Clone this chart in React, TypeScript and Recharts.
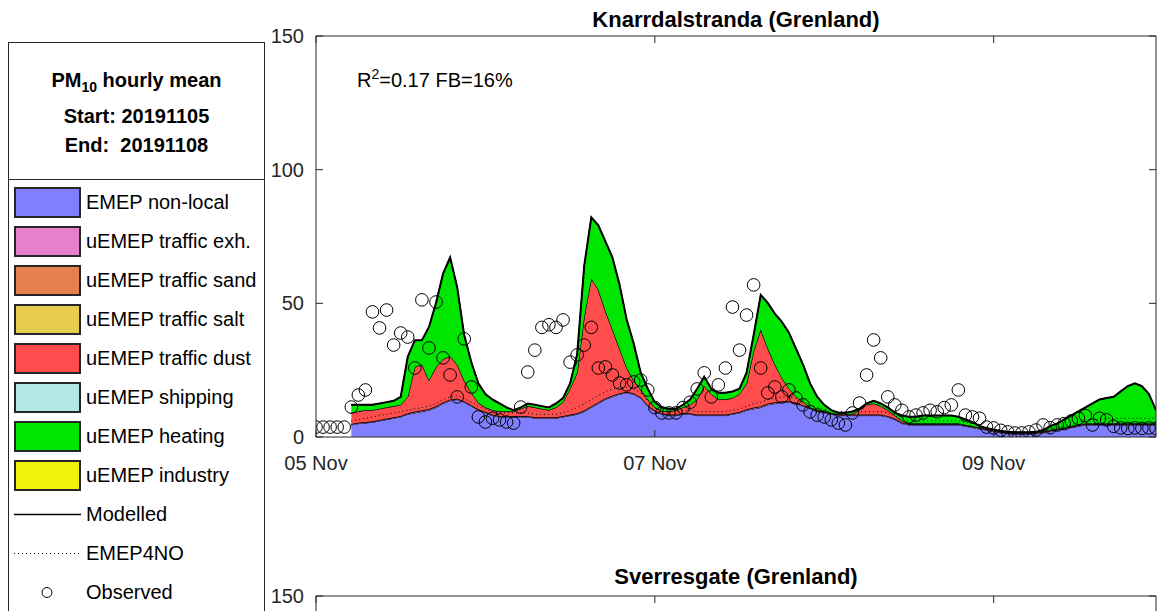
import React from 'react';
import { Area, ComposedChart, Line, ReferenceArea, Scatter, XAxis, YAxis } from 'recharts';

// hours since 05 Nov 00:00, model output starts at hour 5
const FIRST_MODEL_HOUR = 5;
const LAST_HOUR = 119;
const dayTicks = [0, 48, 96];
const dayLabels = ['05 Nov', '07 Nov', '09 Nov'];
const concTicks = [0, 50, 100, 150];

const observed = [
  3.7, 3.7, 3.7, 3.7, 3.7, 11.2, 15.7, 17.6, 46.8, 40.8,
  47.5, 34.4, 38.9, 37.4, 25.8, 51.3, 33.3, 50.5, 29.6, 23.2,
  15, 36.7, 18.7, 7.5, 5.6, 7, 6.4, 5.6, 5.2, 11.2,
  24.3, 32.5, 41, 42, 41, 43.8, 28, 30.7, 34.4, 41,
  25.8, 26.2, 23.2, 20.2, 19.5, 20.6, 21.3, 17.6, 11, 9,
  9, 9, 11, 13, 18, 24, 15, 19.5, 25.8, 48.6,
  32.5, 45.6, 56.9, 25.8, 16.5, 18.7, 15, 17.6, 14.6, 12,
  9.4, 8.2, 7.5, 6.4, 5.2, 4.5, 9, 12.7, 23.2, 36.3,
  29.6, 15, 12, 10, 7.5, 8.2, 9, 10, 9.4, 11,
  12, 17.6, 8.2, 7.5, 7, 3.7, 3.4, 2.5, 1.9, 1.5,
  1.5, 1.9, 2.6, 4.5, 3.5, 4.5, 5, 6, 7, 8,
  4.5, 7, 6.4, 4, 3.4, 3.2, 3.4, 3.2, 3.4, 3.2,
];

const nonLocal = [
  4.5, 5, 5.2, 5.5, 6,
  6.5, 7, 7.5, 8.5, 9, 9.5, 10, 11, 12.5, 13.5,
  14, 13, 11.5, 10, 9, 8, 7.5, 7.5, 7.5, 7.5,
  7.5, 7, 7, 7, 7, 7.5, 8, 8.5, 9.5, 11,
  12.5, 14, 15, 16, 16.5, 16, 14.5, 11.5, 9.5, 8.5,
  8, 8, 8.5, 8.5, 8, 8, 8, 8, 8, 8.5,
  9, 10, 10.5, 11, 12, 12.5, 13, 13, 12.5, 11.5,
  10.5, 9.5, 9, 8.5, 8, 8, 8, 8, 8, 8,
  8, 7.5, 6.5, 5, 4.5, 4.5, 4.5, 4.5, 4.5, 4.5,
  4.5, 4.5, 4, 3.5, 3, 2.5, 2, 1.5, 1.2, 1,
  1, 1, 1.2, 1.5, 2, 2.5, 3, 3.5, 4, 4.5,
  4.5, 4.5, 4.5, 4.5, 4.5, 4.5, 4.5, 4.5, 4.5, 4.5,
];

const trafficExh = [
  0.3, 0.3, 0.3, 0.3, 0.3,
  0.3, 0.3, 0.3, 0.3, 0.4, 0.4, 0.4, 0.4, 0.4, 0.4,
  0.3, 0.3, 0.3, 0.3, 0.3, 0.3, 0.3, 0.3, 0.3, 0.3,
  0.3, 0.3, 0.3, 0.3, 0.3, 0.3, 0.3, 0.3, 0.4, 0.4,
  0.4, 0.4, 0.4, 0.3, 0.3, 0.3, 0.3, 0.3, 0.3, 0.3,
  0.3, 0.3, 0.3, 0.3, 0.3, 0.3, 0.3, 0.3, 0.3, 0.3,
  0.3, 0.3, 0.4, 0.4, 0.4, 0.4, 0.3, 0.3, 0.3, 0.3,
  0.3, 0.3, 0.3, 0.3, 0.3, 0.3, 0.3, 0.3, 0.3, 0.3,
  0.3, 0.3, 0.3, 0.3, 0.3, 0.3, 0.3, 0.3, 0.3, 0.3,
  0.3, 0.3, 0.3, 0.3, 0.3, 0.3, 0.3, 0.3, 0.3, 0.3,
  0.3, 0.3, 0.3, 0.3, 0.3, 0.3, 0.3, 0.3, 0.3, 0.3,
  0.3, 0.3, 0.3, 0.3, 0.3, 0.3, 0.3, 0.3, 0.3, 0.3,
];

const trafficSand = [
  0.05, 0.05, 0.05, 0.05, 0.05,
  0.05, 0.05, 0.05, 0.05, 0.05, 0.05, 0.05, 0.05, 0.05, 0.05,
  0.05, 0.05, 0.05, 0.05, 0.05, 0.05, 0.05, 0.05, 0.05, 0.05,
  0.05, 0.05, 0.05, 0.05, 0.05, 0.05, 0.05, 0.05, 0.05, 0.05,
  0.05, 0.05, 0.05, 0.05, 0.05, 0.05, 0.05, 0.05, 0.05, 0.05,
  0.05, 0.05, 0.05, 0.05, 0.05, 0.05, 0.05, 0.05, 0.05, 0.05,
  0.05, 0.05, 0.05, 0.05, 0.05, 0.05, 0.05, 0.05, 0.05, 0.05,
  0.05, 0.05, 0.05, 0.05, 0.05, 0.05, 0.05, 0.05, 0.05, 0.05,
  0.05, 0.05, 0.05, 0.05, 0.05, 0.05, 0.05, 0.05, 0.05, 0.05,
  0.05, 0.05, 0.05, 0.05, 0.05, 0.05, 0.05, 0.05, 0.05, 0.05,
  0.05, 0.05, 0.05, 0.05, 0.05, 0.05, 0.05, 0.05, 0.05, 0.05,
  0.05, 0.05, 0.05, 0.05, 0.05, 0.05, 0.05, 0.05, 0.05, 0.05,
];

const trafficSalt = [
  0.05, 0.05, 0.05, 0.05, 0.05,
  0.05, 0.05, 0.05, 0.05, 0.05, 0.05, 0.05, 0.05, 0.05, 0.05,
  0.05, 0.05, 0.05, 0.05, 0.05, 0.05, 0.05, 0.05, 0.05, 0.05,
  0.05, 0.05, 0.05, 0.05, 0.05, 0.05, 0.05, 0.05, 0.05, 0.05,
  0.05, 0.05, 0.05, 0.05, 0.05, 0.05, 0.05, 0.05, 0.05, 0.05,
  0.05, 0.05, 0.05, 0.05, 0.05, 0.05, 0.05, 0.05, 0.05, 0.05,
  0.05, 0.05, 0.05, 0.05, 0.05, 0.05, 0.05, 0.05, 0.05, 0.05,
  0.05, 0.05, 0.05, 0.05, 0.05, 0.05, 0.05, 0.05, 0.05, 0.05,
  0.05, 0.05, 0.05, 0.05, 0.05, 0.05, 0.05, 0.05, 0.05, 0.05,
  0.05, 0.05, 0.05, 0.05, 0.05, 0.05, 0.05, 0.05, 0.05, 0.05,
  0.05, 0.05, 0.05, 0.05, 0.05, 0.05, 0.05, 0.05, 0.05, 0.05,
  0.05, 0.05, 0.05, 0.05, 0.05, 0.05, 0.05, 0.05, 0.05, 0.05,
];

const trafficDust = [
  4.1, 4.1, 4.4, 4.1, 4.1,
  4.1, 4.1, 4.1, 6.1, 16.6, 17.1, 10.6, 14.6, 16.1, 16.1,
  12.6, 7.6, 4.6, 2.3, 1.6, 1.6, 1.6, 1.6, 1.6, 2.6,
  3.6, 3.6, 3.1, 2.6, 3.6, 5.1, 9.6, 15.1, 35.1, 47.6,
  42.1, 32.6, 24.6, 16.6, 9.1, 4.6, 2.6, 2.1, 1.1, 0.6,
  1.1, 1.6, 2.1, 3.1, 5.6, 10.6, 7.6, 5.6, 5.6, 5.6,
  6.6, 9.6, 21.1, 28.6, 20.6, 14.1, 8.6, 4.6, 2.1, 1.1,
  0.1, 0.1, 0.1, 0.1, 0.1, 0.1, 0.2, 1.6, 3.6, 4.1,
  3.1, 2.1, 1.1, 0.6, 0.1, 0.1, 0.1, 0.1, 0.1, 0.1,
  0.1, 0.1, 0.1, 0.1, 0.1, 0.1, 0.1, 0.1, 0.1, 0.1,
  0.1, 0.1, 0.1, 0.1, 0.1, 0.1, 0.1, 0.1, 0.1, 0.1,
  0.1, 0.1, 0.1, 0.1, 0.1, 0.1, 0.1, 0.1, 0.1, 0.1,
];

const shipping = [
  0.1, 0.1, 0.1, 0.1, 0.1,
  0.1, 0.1, 0.1, 0.1, 0.1, 0.1, 0.1, 0.1, 0.1, 0.1,
  0.1, 0.1, 0.1, 0.1, 0.1, 0.1, 0.1, 0.1, 0.1, 0.1,
  0.1, 0.1, 0.1, 0.1, 0.1, 0.1, 0.1, 0.1, 0.1, 0.1,
  0.1, 0.1, 0.1, 0.1, 0.1, 0.1, 0.1, 0.1, 0.1, 0.1,
  0.1, 0.1, 0.1, 0.1, 0.1, 0.1, 0.1, 0.1, 0.1, 0.1,
  0.1, 0.1, 0.1, 0.1, 0.1, 0.1, 0.1, 0.1, 0.1, 0.1,
  0.1, 0.1, 0.1, 0.1, 0.1, 0.1, 0.1, 0.1, 0.1, 0.1,
  0.1, 0.1, 0.1, 0.1, 0.1, 0.1, 0.1, 0.1, 0.1, 0.1,
  0.1, 0.1, 0.1, 0.1, 0.1, 0.1, 0.1, 0.1, 0.1, 0.1,
  0.1, 0.1, 0.1, 0.1, 0.1, 0.1, 0.1, 0.1, 0.1, 0.1,
  0.1, 0.1, 0.1, 0.1, 0.1, 0.1, 0.1, 0.1, 0.1, 0.1,
];

const heating = [
  2.9, 2.4, 1.9, 1.9, 1.9,
  1.9, 1.9, 2.9, 14.9, 9.9, 8.9, 19.9, 23.9, 31.9, 36.9,
  28.9, 16.9, 11.4, 7.2, 4.9, 3.9, 2.9, 1.4, 0.4, 0.4,
  0.9, 0.9, 0.9, 0.9, 1.4, 1.4, 1.9, 6.9, 18.9, 22.9,
  23.9, 25.9, 26.9, 23.9, 17.9, 13.9, 6.4, 3.9, 1.9, 1.4,
  0.9, 0.4, 0.9, 1.9, 3.9, 3.4, 1.9, 2.4, 2.4, 2.4,
  1.9, 3.9, 5.9, 12.9, 16.9, 18.9, 20.9, 20.9, 17.9, 13.9,
  8.9, 4.9, 2.4, 0.9, 0.4, 0.4, 0.8, 0.4, 0.4, 0.9,
  0.9, 0.9, 0.9, 1.9, 2.4, 2.4, 2.9, 2.9, 2.9, 2.9,
  2.9, 2.4, 1.9, 1.4, 0.4, 0.2, 0.1, 0.1, 0.1, 0.1,
  0.1, 0.1, 0.1, 0.4, 1.4, 1.9, 2.9, 3.9, 4.9, 5.9,
  7.4, 8.9, 9.4, 9.9, 11.9, 13.9, 14.9, 13.9, 10.9, 4.9,
];

const industry = [
  0.05, 0.05, 0.05, 0.05, 0.05,
  0.05, 0.05, 0.05, 0.05, 0.05, 0.05, 0.05, 0.05, 0.05, 0.05,
  0.05, 0.05, 0.05, 0.05, 0.05, 0.05, 0.05, 0.05, 0.05, 0.05,
  0.05, 0.05, 0.05, 0.05, 0.05, 0.05, 0.05, 0.05, 0.05, 0.05,
  0.05, 0.05, 0.05, 0.05, 0.05, 0.05, 0.05, 0.05, 0.05, 0.05,
  0.05, 0.05, 0.05, 0.05, 0.05, 0.05, 0.05, 0.05, 0.05, 0.05,
  0.05, 0.05, 0.05, 0.05, 0.05, 0.05, 0.05, 0.05, 0.05, 0.05,
  0.05, 0.05, 0.05, 0.05, 0.05, 0.05, 0.05, 0.05, 0.05, 0.05,
  0.05, 0.05, 0.05, 0.05, 0.05, 0.05, 0.05, 0.05, 0.05, 0.05,
  0.05, 0.05, 0.05, 0.05, 0.05, 0.05, 0.05, 0.05, 0.05, 0.05,
  0.05, 0.05, 0.05, 0.05, 0.05, 0.05, 0.05, 0.05, 0.05, 0.05,
  0.05, 0.05, 0.05, 0.05, 0.05, 0.05, 0.05, 0.05, 0.05, 0.05,
];

const emep4no = [
  6, 6.5, 7, 7.5, 8,
  8.5, 9, 9.5, 10, 10.5, 11, 11.5, 12.5, 14, 15,
  15.5, 14.5, 13, 11.5, 10.5, 9.5, 9, 9, 9, 9,
  9, 8.5, 8.5, 8.5, 8.5, 9, 10, 11, 12.5, 14,
  15.5, 17, 18, 18.5, 18.5, 18, 16.5, 13.5, 11, 10,
  9.5, 9.5, 10, 10, 9.5, 9.5, 9.5, 9.5, 9.5, 10,
  10.5, 11.5, 12.5, 13, 14, 14.5, 15, 15, 14.5, 13.5,
  12, 11, 10.5, 10, 9.5, 9.5, 9.5, 9.5, 9.5, 9.5,
  9.5, 9, 8, 6.5, 6, 6, 6, 6, 6, 6,
  6, 6, 5.5, 5, 4.5, 3.5, 3, 2.5, 2, 1.8,
  1.8, 1.8, 2, 2.5, 3, 3.5, 4, 4.5, 5.5, 6,
  6.5, 6.5, 7, 7, 7, 7, 7, 7, 7, 7,
];

const components = [
  { key: 'nonLocal', name: 'EMEP non-local', color: '#8080ff', values: nonLocal },
  { key: 'exh', name: 'uEMEP traffic exh.', color: '#e680cc', values: trafficExh },
  { key: 'sand', name: 'uEMEP traffic sand', color: '#e6804d', values: trafficSand },
  { key: 'salt', name: 'uEMEP traffic salt', color: '#e6cc4d', values: trafficSalt },
  { key: 'dust', name: 'uEMEP traffic dust', color: '#ff4d4d', values: trafficDust },
  { key: 'shipping', name: 'uEMEP shipping', color: '#b3e6e6', values: shipping },
  { key: 'heating', name: 'uEMEP heating', color: '#00e600', values: heating },
  { key: 'industry', name: 'uEMEP industry', color: '#f2f20d', values: industry },
];

const data = observed.map((obs, h) => {
  const row: any = { h, obs };
  const i = h - FIRST_MODEL_HOUR;
  if (i >= 0) {
    let total = 0;
    components.forEach((c) => {
      row[c.key] = c.values[i];
      total += c.values[i];
    });
    row.modelled = total;
    row.emep = emep4no[i];
  }
  return row;
});
const hoursOnly = data.map((d) => ({ h: d.h }));

const AXIS = '#262626';
const FONT = '"Liberation Sans", Arial, Helvetica, sans-serif';
// plot box inside each panel svg
const PLOT_TOP = 36;
const PLOT_RIGHT = 1156;
const TICK_LEN = 7;
const X_GAP = 19;
const Y_GAP = 12;

// MATLAB style: tick marks point into the box, on both opposite sides
const BottomTick = ({ x, y, payload, showLabel }: any) => (
  <g>
    <line x1={x} x2={x} y1={y - X_GAP} y2={y - X_GAP - TICK_LEN} stroke={AXIS} />
    <line x1={x} x2={x} y1={PLOT_TOP} y2={PLOT_TOP + TICK_LEN} stroke={AXIS} />
    {showLabel && (
      <text x={x} y={y} dy="0.71em" textAnchor="middle" fill={AXIS} fontSize={20} fontFamily={FONT}>
        {dayLabels[dayTicks.indexOf(payload.value)]}
      </text>
    )}
  </g>
);

const LeftTick = ({ x, y, payload }: any) => (
  <g>
    <line x1={x + Y_GAP} x2={x + Y_GAP + TICK_LEN} y1={y} y2={y} stroke={AXIS} />
    <line x1={PLOT_RIGHT - TICK_LEN} x2={PLOT_RIGHT} y1={y} y2={y} stroke={AXIS} />
    <text x={x} y={y} dy="0.355em" textAnchor="end" fill={AXIS} fontSize={20} fontFamily={FONT}>
      {payload.value}
    </text>
  </g>
);

const Ring = (props: any) => (
  <circle cx={props.cx} cy={props.cy} r={6.3} fill="none" stroke="#000" strokeWidth={1} />
);

function Panel({ rows, withSeries }: { rows: any[]; withSeries: boolean }) {
  return (
    <ComposedChart width={1158} height={490} data={rows} margin={{ top: PLOT_TOP, right: 1158 - PLOT_RIGHT, bottom: 13, left: 276 }}>
      <XAxis xAxisId="x" dataKey="h" type="number" domain={[0, LAST_HOUR]} ticks={dayTicks} height={40}
        tickSize={0} tickMargin={X_GAP} tick={<BottomTick showLabel={withSeries} />} axisLine={false} allowDataOverflow />
      <YAxis yAxisId="y" type="number" domain={[0, 150]} ticks={withSeries ? concTicks : [150]} width={40}
        tickSize={0} tickMargin={Y_GAP} tick={<LeftTick />} axisLine={false} allowDataOverflow />
      {withSeries &&
        components.map((c) => (
          <Area key={c.key} xAxisId="x" yAxisId="y" type="linear" dataKey={c.key} stackId="pm"
            fill={c.color} fillOpacity={1} stroke="#000" strokeWidth={1} isAnimationActive={false} />
        ))}
      {withSeries && (
        <Line xAxisId="x" yAxisId="y" type="linear" dataKey="emep" stroke="#000" strokeWidth={1}
          strokeDasharray="1 3" dot={false} isAnimationActive={false} />
      )}
      {withSeries && (
        <Line xAxisId="x" yAxisId="y" type="linear" dataKey="modelled" stroke="#000" strokeWidth={2}
          dot={false} isAnimationActive={false} />
      )}
      {withSeries && (
        <Scatter xAxisId="x" yAxisId="y" dataKey="obs" shape={<Ring />} isAnimationActive={false} />
      )}
      <ReferenceArea xAxisId="x" yAxisId="y" x1={0} x2={LAST_HOUR} y1={0} y2={150} fill="none"
        stroke={AXIS} strokeWidth={1} ifOverflow="visible" />
    </ComposedChart>
  );
}

const legendLines = [
  { name: 'Modelled', kind: 'solid' },
  { name: 'EMEP4NO', kind: 'dotted' },
  { name: 'Observed', kind: 'ring' },
];

function LegendBox() {
  const rowTop = (i: number) => 144 + i * 39;
  return (
    <div style={{ position: 'absolute', left: 8, top: 42, width: 255, height: 620, border: `1px solid ${AXIS}`, background: '#fff' }}>
      <div style={{ position: 'absolute', left: 0, top: 0, width: 255, height: 136, borderBottom: `1px solid ${AXIS}`, fontWeight: 'bold', fontSize: 20, textAlign: 'center', color: '#000' }}>
        <div style={{ position: 'absolute', top: 25, width: '100%', lineHeight: '24px' }}>
          PM<sub style={{ fontSize: 14 }}>10</sub> hourly mean
        </div>
        <div style={{ position: 'absolute', top: 61, width: '100%', lineHeight: '24px' }}>Start: 20191105</div>
        <div style={{ position: 'absolute', top: 90, width: '100%', lineHeight: '24px', whiteSpace: 'pre' }}>End:  20191108</div>
      </div>
      {components.map((c, i) => (
        <div key={c.key}>
          <div style={{ position: 'absolute', left: 5, top: rowTop(i), width: 63, height: 27, background: c.color, border: `2px solid ${AXIS}` }} />
          <div style={{ position: 'absolute', left: 77, top: rowTop(i), lineHeight: '31px', fontSize: 20, color: '#000', whiteSpace: 'nowrap' }}>{c.name}</div>
        </div>
      ))}
      {legendLines.map((l, j) => {
        const i = components.length + j;
        return (
          <div key={l.name}>
            <svg style={{ position: 'absolute', left: 5, top: rowTop(i) }} width={67} height={31}>
              {l.kind === 'solid' && <line x1={0} x2={67} y1={15.5} y2={15.5} stroke="#000" strokeWidth={1.5} />}
              {l.kind === 'dotted' && <line x1={0} x2={67} y1={15.5} y2={15.5} stroke="#000" strokeWidth={1} strokeDasharray="1 3" />}
              {l.kind === 'ring' && <circle cx={33} cy={15.5} r={5} fill="none" stroke="#000" strokeWidth={1} />}
            </svg>
            <div style={{ position: 'absolute', left: 77, top: rowTop(i), lineHeight: '31px', fontSize: 20, color: '#000' }}>{l.name}</div>
          </div>
        );
      })}
    </div>
  );
}

export default function App() {
  return (
    <div style={{ position: 'absolute', left: 0, top: 0, width: 1158, height: 611, overflow: 'hidden', background: '#fff', fontFamily: FONT }}>
      <div style={{ position: 'absolute', left: 0, top: 0 }}>
        <Panel rows={data} withSeries />
      </div>
      <div style={{ position: 'absolute', left: 316, top: 8, width: 840, textAlign: 'center', fontWeight: 'bold', fontSize: 22, lineHeight: '24px', color: '#000' }}>
        Knarrdalstranda (Grenland)
      </div>
      <div style={{ position: 'absolute', left: 357, top: 62, fontSize: 20, lineHeight: '24px', color: '#000' }}>
        R<sup style={{ fontSize: 14 }}>2</sup>=0.17 FB=16%
      </div>
      <div style={{ position: 'absolute', left: 0, top: 560 }}>
        <Panel rows={hoursOnly} withSeries={false} />
      </div>
      <div style={{ position: 'absolute', left: 316, top: 565, width: 840, textAlign: 'center', fontWeight: 'bold', fontSize: 22, lineHeight: '24px', color: '#000' }}>
        Sverresgate (Grenland)
      </div>
      <LegendBox />
    </div>
  );
}
